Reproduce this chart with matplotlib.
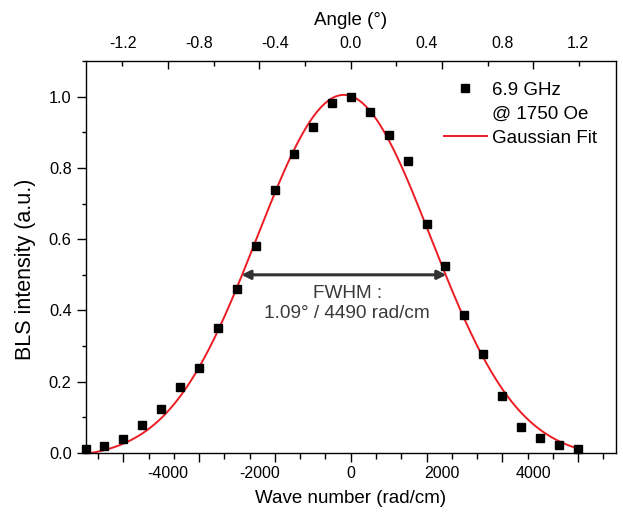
import numpy as np
import matplotlib
matplotlib.use('Agg')
import matplotlib.pyplot as plt
from matplotlib.lines import Line2D

plt.rcParams['font.family'] = ['Liberation Sans', 'DejaVu Sans']
plt.rcParams['axes.unicode_minus'] = False

# Datos: ángulo (°) y señal BLS normalizada
angulo = [-1.4, -1.3, -1.2, -1.1, -1.0, -0.9, -0.8, -0.7, -0.6, -0.5, -0.4, -0.3, -0.2, -0.1,
          0.0, 0.1, 0.2, 0.3, 0.4, 0.5, 0.6, 0.7, 0.8, 0.9, 1.0, 1.1, 1.2]
intensidad = [0.012, 0.021, 0.039, 0.078, 0.123, 0.184, 0.239, 0.351, 0.459, 0.582, 0.737,
              0.838, 0.915, 0.982, 0.999, 0.957, 0.892, 0.819, 0.642, 0.526, 0.386, 0.277,
              0.160, 0.072, 0.041, 0.023, 0.011]
K = 4150.0  # rad/cm por grado

# Parámetros del ajuste gaussiano
fit_xc = -150.0
fit_fwhm = 4490.0
fit_A = 1.02
fit_y0 = -0.015

etiquetas_k = [-4000, -2000, 0, 2000, 4000]
etiquetas_ang = [-1.2, -0.8, -0.4, 0.0, 0.4, 0.8, 1.2]

k = np.array(angulo) * K
sigma = fit_fwhm / (2 * np.sqrt(2 * np.log(2)))
xf = np.linspace(k.min(), k.max(), 500)
yf = fit_y0 + fit_A * np.exp(-(xf - fit_xc)**2 / (2 * sigma**2))

fig = plt.figure(figsize=(6.23, 5.14), dpi=100)
ax = fig.add_axes([0.138, 0.1187, 0.8503, 0.7626])

ax.plot(xf, yf, color='#ec1c24', lw=1.4, zorder=2)
ax.plot(k, intensidad, 's', color='black', ms=6.3, clip_on=False, zorder=3)

ax.set_xlim(-5800, 5805)
ax.set_ylim(0, 1.1)

for s in ax.spines.values():
    s.set_linewidth(1.0)

# ticks inferiores (posiciones en grados, como en el original)
paso = 0.4 / 3
n = np.arange(-16, 17)
menores = n * paso * K
menores = menores[(menores >= -5800) & (menores <= 5805)]
mayores = np.arange(-3, 4) * 0.4 * K
ax.set_xticks(mayores)
ax.set_xticks(menores, minor=True)
ax.tick_params(axis='x', which='both', direction='out', bottom=True, top=False,
               labelbottom=False, width=1.0)
ax.tick_params(axis='x', which='major', length=6.5)
ax.tick_params(axis='x', which='minor', length=4)

# eje y
ax.set_yticks(np.arange(0, 1.01, 0.2))
ax.set_yticks(np.arange(0, 1.11, 0.1), minor=True)
ax.tick_params(axis='y', which='both', direction='out', left=True, right=False,
               labelsize=11.8, width=1.0)
ax.tick_params(axis='y', which='major', length=6.3, pad=4)
ax.tick_params(axis='y', which='minor', length=3.2)
ax.set_ylabel('BLS intensity (a.u.)', fontsize=15.5)
ax.yaxis.set_label_coords(-0.094, 0.469)

# etiquetas inferiores (número de onda)
sb = ax.secondary_xaxis('bottom')
sb.set_xticks(etiquetas_k)
sb.tick_params(axis='x', length=0, pad=9.5, labelsize=11.5)
sb.spines['bottom'].set_visible(False)
sb.set_xlabel('Wave number (rad/cm)', fontsize=13.5, labelpad=6.5)

# marcas superiores (número de onda)
st = ax.secondary_xaxis('top')
st.set_xticks(np.arange(-4000, 4001, 2000))
st.set_xticks(np.arange(-5000, 5001, 1000), minor=True)
st.tick_params(axis='x', which='both', direction='in', labeltop=False, width=1.0)
st.tick_params(axis='x', which='major', length=5.5)
st.tick_params(axis='x', which='minor', length=3.5)
st.spines['top'].set_visible(False)

# etiquetas superiores (ángulo)
sa = ax.secondary_xaxis('top', functions=(lambda x: x / K, lambda a: a * K))
sa.set_xticks(etiquetas_ang)
sa.set_xticklabels([f'{a:.1f}' for a in etiquetas_ang])
sa.tick_params(axis='x', length=0, pad=7, labelsize=11.5)
sa.spines['top'].set_visible(False)
sa.set_xlabel('Angle (°)', fontsize=13.5, labelpad=8)

# flecha FWHM
x1 = fit_xc - fit_fwhm / 2
x2 = fit_xc + fit_fwhm / 2
ax.annotate('', xy=(x1, 0.5), xytext=(x2, 0.5),
            arrowprops=dict(arrowstyle='<|-|>', color='#333333', lw=2.2,
                            mutation_scale=13, shrinkA=0, shrinkB=0))
ax.text(-80, 0.472, 'FWHM :\n1.09° / 4490 rad/cm', ha='center', va='top',
        fontsize=13.7, color='#3a3a3a', linespacing=1.25)

# leyenda
h1 = Line2D([], [], marker='s', color='black', ls='none', ms=6.3)
h2 = Line2D([], [], ls='none')
h3 = Line2D([], [], color='#ec1c24', lw=1.4)
ax.legend([h1, h2, h3], ['6.9 GHz', '@ 1750 Oe', 'Gaussian Fit'],
          loc='upper left', bbox_to_anchor=(0.676, 0.947), frameon=False,
          fontsize=13.5, borderpad=0, borderaxespad=0, handlelength=2.28,
          handletextpad=0.3, labelspacing=0.37)

fig.savefig('out.png', dpi=100)
